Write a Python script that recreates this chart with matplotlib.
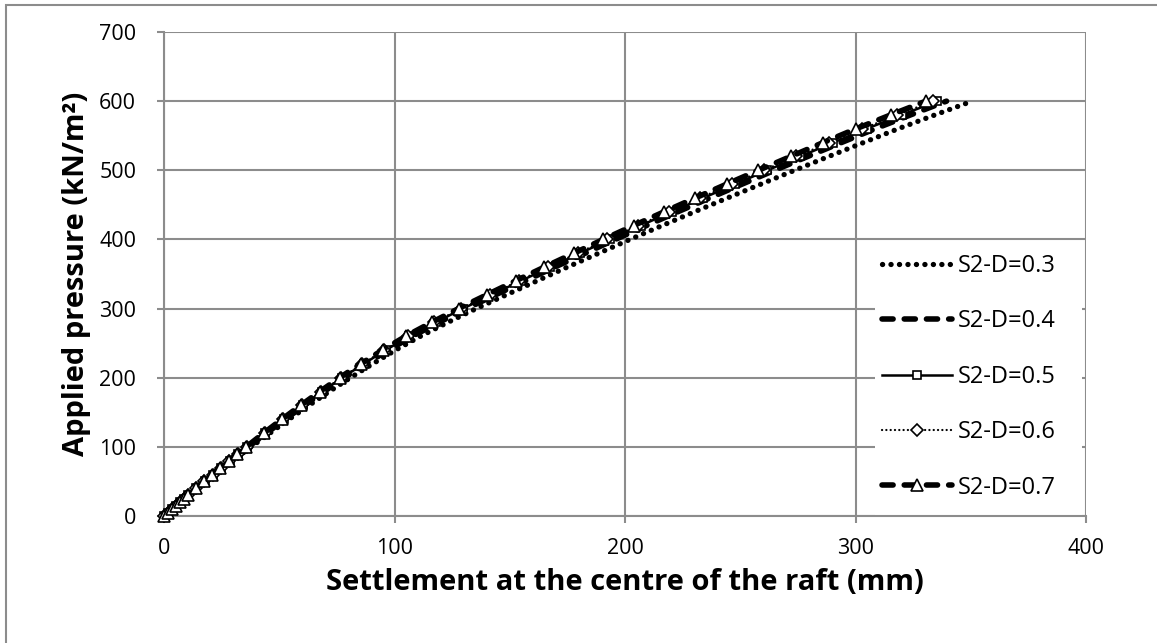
import matplotlib
matplotlib.use("Agg")
import matplotlib.pyplot as plt
from matplotlib.patches import Rectangle

plt.rcParams['font.family'] = ['Open Sans', 'DejaVu Sans']
plt.rcParams['lines.scale_dashes'] = False

pressure = [0, 5, 10, 15, 20, 25, 30, 40, 50, 60, 70, 80, 90, 100, 120, 140, 160, 180, 200,
            220, 240, 260, 280, 300, 320, 340, 360, 380, 400, 420, 440, 460, 480, 500, 520,
            540, 560, 580, 600]

s_d03 = [0, 1.8, 3.7, 5.4, 7.3, 9.1, 11.0, 14.6, 18.4, 22.2, 25.9, 29.8, 33.8, 37.8, 46.0,
         54.3, 62.9, 71.7, 80.9, 90.5, 100.5, 111.3, 123.1, 135.5, 148.6, 161.8, 175.0,
         188.6, 202.2, 216.1, 230.2, 244.5, 259.0, 273.6, 288.4, 303.4, 318.5, 334.4, 350.6]
s_d04 = [0, 1.7, 3.5, 5.3, 7.1, 8.8, 10.6, 14.2, 17.8, 21.5, 25.1, 28.8, 32.7, 36.6, 44.5,
         52.6, 60.9, 69.4, 78.3, 87.6, 97.4, 107.8, 119.2, 131.3, 143.9, 156.7, 169.5,
         182.7, 195.8, 209.3, 222.9, 236.8, 250.8, 264.9, 279.3, 293.8, 308.5, 323.8, 339.5]
s_d05 = [0, 1.7, 3.5, 5.2, 7.0, 8.7, 10.5, 14.0, 17.6, 21.2, 24.8, 28.5, 32.3, 36.2, 44.0,
         52.0, 60.2, 68.6, 77.4, 86.6, 96.2, 106.5, 117.8, 129.7, 142.2, 154.8, 167.5,
         180.5, 193.5, 206.8, 220.3, 234.0, 247.8, 261.8, 276.0, 290.3, 304.8, 320.0, 335.5]
s_d06 = [0, 1.7, 3.5, 5.2, 7.0, 8.6, 10.4, 13.9, 17.5, 21.1, 24.7, 28.3, 32.1, 36.0, 43.7,
         51.7, 59.8, 68.2, 76.9, 86.1, 95.6, 105.9, 117.1, 128.9, 141.3, 153.9, 166.5,
         179.4, 192.3, 205.6, 219.0, 232.6, 246.3, 260.2, 274.3, 288.6, 303.0, 318.1, 333.5]
s_d07 = [0, 1.7, 3.4, 5.1, 6.9, 8.6, 10.3, 13.8, 17.3, 20.9, 24.4, 28.1, 31.8, 35.7, 43.3,
         51.2, 59.3, 67.6, 76.2, 85.3, 94.8, 104.9, 116.1, 127.8, 140.1, 152.5, 165.0,
         177.8, 190.6, 203.7, 217.0, 230.5, 244.1, 257.9, 271.9, 285.9, 300.2, 315.2, 330.5]

labels = ['S2-D=0.3', 'S2-D=0.4', 'S2-D=0.5', 'S2-D=0.6', 'S2-D=0.7']
x_ticks = [0, 100, 200, 300, 400]
y_ticks = [0, 100, 200, 300, 400, 500, 600, 700]

fig = plt.figure(figsize=(11.57, 6.43), dpi=100)
ax = fig.add_axes([164 / 1157, 1 - 516 / 643, (1086 - 164) / 1157, (516 - 32) / 643])

grid_c = '#8c8c8c'

ax.plot(s_d03, pressure, color='black', lw=3.8, linestyle=(0, (0.1, 6.0)),
        dash_capstyle='round', label=labels[0], zorder=3, clip_on=False)
ax.plot(s_d04, pressure, color='black', lw=4.0, linestyle=(0, (8.0, 8.0)),
        dash_capstyle='round', label=labels[1], zorder=3, clip_on=False)
ax.plot(s_d05, pressure, color='black', lw=1.8, linestyle='-', marker='s', ms=5.5,
        mfc='white', mec='black', mew=1.2, label=labels[2], zorder=3, clip_on=False)
ax.plot(s_d06, pressure, color='black', lw=1.6, linestyle=(0, (0.1, 3.0)),
        dash_capstyle='round', marker='D', ms=6.5, mfc='white', mec='black', mew=1.2,
        label=labels[3], zorder=3, clip_on=False)
ax.plot(s_d07, pressure, color='black', lw=4.0, linestyle=(0, (8.0, 8.0)),
        dash_capstyle='round', marker='^', ms=8, mfc='white', mec='black', mew=1.2,
        label=labels[4], zorder=3, clip_on=False)

ax.set_xlim(0, 400)
ax.set_ylim(0, 700)
ax.set_xticks(x_ticks)
ax.set_yticks(y_ticks)
ax.grid(True, color=grid_c, lw=1.5)
ax.set_axisbelow(True)
for side in ['top', 'right']:
    ax.spines[side].set_visible(False)
for side in ['left', 'bottom']:
    ax.spines[side].set_color(grid_c)
    ax.spines[side].set_linewidth(1.5)
ax.tick_params(direction='out', length=5, width=1.5, color=grid_c, labelsize=15.5,
               labelcolor='black')
ax.tick_params(axis='x', pad=11)
ax.tick_params(axis='y', pad=15)

ax.set_xlabel('Settlement at the centre of the raft (mm)', fontsize=21,
              fontweight='bold', labelpad=6)
ax.set_ylabel('Applied pressure (kN/m²)', fontsize=21, fontweight='bold', labelpad=6)

# white legend background (Excel legend area covering the gridlines)
ax.add_patch(Rectangle(((875 - 164) / 922, 0.0), (1082 - 875) / 922, (516 - 248) / 484,
                       transform=ax.transAxes, facecolor='white', edgecolor='none',
                       zorder=2.5))

leg = ax.legend(loc='upper left', bbox_to_anchor=((882 - 164) / 922, (516 - 254) / 484),
                frameon=False, fontsize=17, handlelength=2.97, handletextpad=0.25,
                labelspacing=1.33, borderpad=0.0, borderaxespad=0.0)
leg.set_zorder(4)

fig.patches.append(Rectangle((6 / 1157, -0.1), 1.2, 1.1 - 5 / 643,
                             transform=fig.transFigure, fill=False,
                             edgecolor=grid_c, lw=1.5))

fig.savefig('out.png', dpi=100, facecolor='white')
